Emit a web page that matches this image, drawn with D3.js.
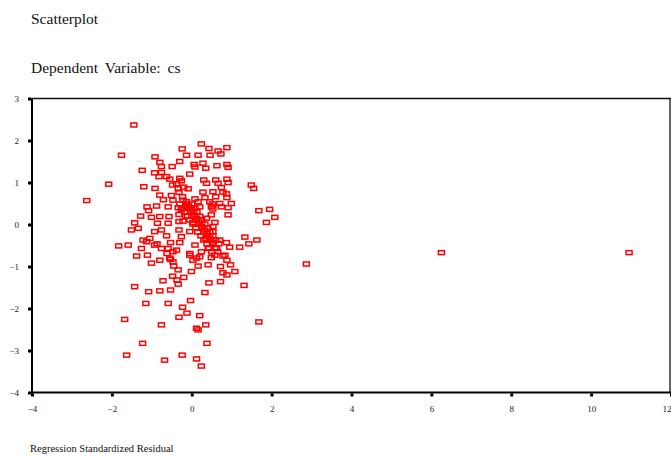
<!DOCTYPE html>
<html>
<head>
<meta charset="utf-8">
<script src="https://cdn.jsdelivr.net/npm/d3@7/dist/d3.min.js"></script>
<style>
  html, body { margin: 0; padding: 0; background: #fff; }
  svg { display: block; }
</style>
</head>
<body>
<svg id="chart" width="671" height="457"></svg>
<script>
// Regression standardized residual (x) against the standardized predicted value (y)
const upperGroup = [
  [-1.45,2.37],[-1.76,1.65],[-2.08,0.96],[-2.63,0.57],[-0.92,1.61],[-1.24,1.29],[-1.20,0.90],[-0.92,0.86],
  [-0.24,1.80],[-0.13,1.65],[-0.80,1.48],[-0.76,1.38],[-0.93,1.23],[-0.76,1.24],[-0.49,1.38],[-0.30,1.50],
  [-0.05,1.20],[-0.82,1.14],[-0.63,1.14],[-0.55,1.08],[-0.30,1.10],[-0.26,1.04],[-0.38,0.97],[-0.48,0.94],
  [-0.20,0.89],[-0.09,0.85],[-0.34,0.85],[-0.80,0.70],[-0.71,0.59],[0.08,1.37],[0.06,1.43],[0.24,1.92],
  [0.43,1.81],[0.66,1.75],[0.88,1.83],[0.46,1.65],[0.73,1.68],[0.16,1.65],[0.28,1.46],[0.35,1.34],
  [0.63,1.40],[0.88,1.43],[0.91,1.36],[0.30,1.06],[0.60,1.06],[0.88,1.08],[0.91,1.00],[0.37,0.98],
  [0.66,0.98],[0.28,0.77],[0.53,0.78],[0.74,0.88],[0.78,0.77],[0.87,0.73],[-0.51,0.69],[-0.32,0.77],
  [-0.23,0.66],[0.08,0.61],[0.33,0.64],[0.60,0.66],[0.88,0.64],[-0.47,0.58],[-0.22,0.58],[-0.13,0.54],
  [0.16,0.54],[0.45,0.54],[0.70,0.50],[0.99,0.50],[0.52,0.49],[1.49,0.94],[1.55,0.86]
];

const middleGroup = [
  [-1.12,0.42],[-0.88,0.44],[-0.59,0.42],[-0.34,0.40],[-0.13,0.42],[-0.05,0.40],[0.20,0.42],[0.49,0.42],
  [0.74,0.42],[0.91,0.40],[1.68,0.33],[1.95,0.36],[2.08,0.17],[1.87,0.05],[0.53,0.37],[0.49,0.23],
  [0.91,0.23],[0.53,-0.05],[1.33,-0.30],[1.63,-0.37],[1.43,-0.46],[0.87,-0.43],[1.20,-0.54],[0.95,-0.54],
  [0.62,-0.57],[0.78,-0.75],[0.88,-0.85],[0.97,-0.96],[0.72,-1.00],[0.41,-0.96],[0.16,-0.99],
  [-1.51,-0.13],[-1.34,-0.09],[-1.43,0.04],[-1.83,-0.51],[-1.59,-0.49],[-1.38,-0.75],[-1.13,-0.41],
  [-1.05,-0.33],[-0.93,-0.17],[-0.86,0.03],[-0.59,0.03],[-1.26,-0.57],[-1.11,-0.73],[-1.01,-0.92],
  [-0.80,-0.85],[-0.87,-0.46],[-0.76,-0.57],[-0.53,-0.43],[-0.62,-0.69],[-0.38,-0.61],[-0.30,-0.43],
  [-0.53,-0.83],[-0.45,-0.99],[-0.05,-0.69],[0.12,-0.80],
  [-0.63,-0.27],[-0.32,0.07],[-0.26,0.35],[-0.15,0.20],[-1.08,0.33],[-1.28,0.20],[-1.01,0.17],
  [-0.80,0.19],[-0.57,0.19],[-0.32,0.24],[-0.22,0.08],[0.03,0.05],[0.37,0.15],[0.58,0.05],[-0.76,-0.13],
  [-0.32,-0.13],[-0.26,-0.29],[-0.05,-0.17],[0.35,-0.33],[0.53,-0.17],[0.70,-0.37],[-1.22,-0.37],
  [-0.93,-0.49],[-0.47,-0.65],[-0.59,-0.57],[0.08,-0.49],[0.24,-0.65],[0.41,-0.57],[0.58,-0.73],
  [0.83,-0.73],[-0.55,-0.80],[-0.47,-0.89],[-0.05,-0.73],[0.03,-0.85],[0.20,-0.77],[0.49,-0.79]
];

// dense diagonal band near the centre
const coreBand = [
  [-0.30,0.49],[-0.15,0.49],[0.00,0.49],[-0.08,0.45],
  [-0.23,0.39],[-0.08,0.39],[0.08,0.39],[0.00,0.35],
  [-0.18,0.30],[-0.03,0.30],[0.13,0.30],[0.05,0.25],
  [-0.10,0.20],[0.05,0.20],[0.20,0.20],[0.12,0.15],
  [-0.05,0.11],[0.10,0.11],[0.25,0.11],[0.18,0.06],
  [0.03,0.01],[0.18,0.01],[0.33,0.01],[0.25,-0.04],
  [0.10,-0.08],[0.25,-0.08],[0.40,-0.08],[0.32,-0.13],
  [0.15,-0.18],[0.30,-0.18],[0.45,-0.18],[0.38,-0.22],
  [0.23,-0.27],[0.38,-0.27],[0.53,-0.27],[0.45,-0.32],
  [0.30,-0.37],[0.45,-0.37],[0.60,-0.37],[0.52,-0.42],
  [0.38,-0.46],[0.53,-0.46],[0.68,-0.46],
  [0.43,-0.56],[0.58,-0.56],
  [0.50,-0.65],[0.65,-0.65]
];

const lowerGroup = [
  [1.08,-1.12],[0.78,-1.15],[0.88,-1.20],[0.43,-1.39],[0.72,-1.36],[1.31,-1.45],[0.33,-1.62],[-0.03,-1.81],
  [0.20,-2.17],[0.35,-2.39],[0.12,-2.47],[0.16,-2.51],[1.68,-2.32],[-0.34,-1.08],[-0.48,-1.23],[-0.37,-1.32],
  [-0.72,-1.34],[-0.20,-1.26],[-0.01,-1.12],[-1.43,-1.48],[-1.08,-1.60],[-0.80,-1.58],[-0.53,-1.56],
  [-1.15,-1.88],[-0.59,-1.88],[-0.23,-1.97],[-0.12,-2.11],[-0.32,-2.21],[-1.68,-2.26],[-0.76,-2.39],
  [-1.23,-2.83],[0.38,-2.83],[-1.63,-3.11],[-0.68,-3.23],[-0.24,-3.11],[0.12,-3.20],[0.24,-3.37],[-0.34,-1.42]
];

const farPoints = [[2.87,-0.94],[6.25,-0.67],[10.95,-0.67]];

const xTicks = [-4, -2, 0, 2, 4, 6, 8, 10, 12];
const yTicks = [-4, -3, -2, -1, 0, 1, 2, 3];

const titleText = "Scatterplot";
const subtitleText = "Dependent Variable: cs";
const xTitleText = "Regression Standardized Residual";

const SERIF = "'Liberation Serif', 'Times New Roman', 'DejaVu Serif', serif";

const allPoints = [].concat(upperGroup, middleGroup, coreBand, lowerGroup, farPoints);

const svg = d3.select("#chart");
const plot = { left: 32, right: 671, top: 98.5, bottom: 392.5 };

const x = d3.scaleLinear().domain([-4, 12]).range([plot.left, plot.right]);
const y = d3.scaleLinear().domain([-4, 3]).range([plot.bottom, plot.top]);

// titles
svg.append("text")
  .attr("x", 31).attr("y", 24)
  .style("font-family", SERIF).style("font-size", "15.5px")
  .attr("fill", "#111")
  .text(titleText);
svg.append("text")
  .attr("x", 31).attr("y", 73)
  .style("font-family", SERIF).style("font-size", "15.5px")
  .style("word-spacing", "3px")
  .attr("fill", "#111")
  .text(subtitleText);

// frame
svg.append("line").attr("x1", plot.left).attr("x2", plot.right)
  .attr("y1", plot.top).attr("y2", plot.top)
  .attr("stroke", "#111").attr("stroke-width", 1.3);
svg.append("line").attr("x1", plot.right - 1).attr("x2", plot.right - 1)
  .attr("y1", plot.top).attr("y2", plot.bottom)
  .attr("stroke", "#111").attr("stroke-width", 1.3);

// points: small hollow red rectangles
svg.append("g")
  .selectAll("rect")
  .data(allPoints)
  .join("rect")
  .attr("x", d => x(d[0]) - 3)
  .attr("y", d => y(d[1]) - 2)
  .attr("width", 6)
  .attr("height", 4)
  .attr("fill", "none")
  .attr("stroke", "#ff0000")
  .attr("stroke-width", 1.5);

// axes with square tick marks
const fmt = d3.format("d");
const yAxis = d3.axisLeft(y).tickValues(yTicks).tickFormat(fmt).tickSize(3).tickPadding(9);
const gy = svg.append("g").attr("transform", `translate(${plot.left - 1},0)`).call(yAxis);
const xAxis = d3.axisBottom(x).tickValues(xTicks).tickFormat(fmt).tickSize(3).tickPadding(9);
const gx = svg.append("g").attr("transform", `translate(0,${plot.bottom + 1})`).call(xAxis);

[gx, gy].forEach(g => {
  g.attr("font-family", null);
  g.select(".domain").remove();
  g.selectAll(".tick line").attr("stroke", "#000").attr("stroke-width", 3);
  g.selectAll(".tick text")
    .style("font-family", SERIF).style("font-size", "9px")
    .attr("fill", "#222");
});
// keep the last x label inside the drawing area
gx.selectAll(".tick text").filter(d => d === xTicks[xTicks.length - 1]).attr("text-anchor", "end");

svg.append("line").attr("x1", plot.left).attr("x2", plot.left)
  .attr("y1", plot.top - 0.6).attr("y2", plot.bottom + 1)
  .attr("stroke", "#000").attr("stroke-width", 2);
svg.append("line").attr("x1", plot.left - 1).attr("x2", plot.right)
  .attr("y1", plot.bottom).attr("y2", plot.bottom)
  .attr("stroke", "#000").attr("stroke-width", 2);

svg.append("text")
  .attr("x", 30).attr("y", 452)
  .style("font-family", SERIF).style("font-size", "10.5px")
  .attr("fill", "#111")
  .text(xTitleText);
</script>
</body>
</html>
